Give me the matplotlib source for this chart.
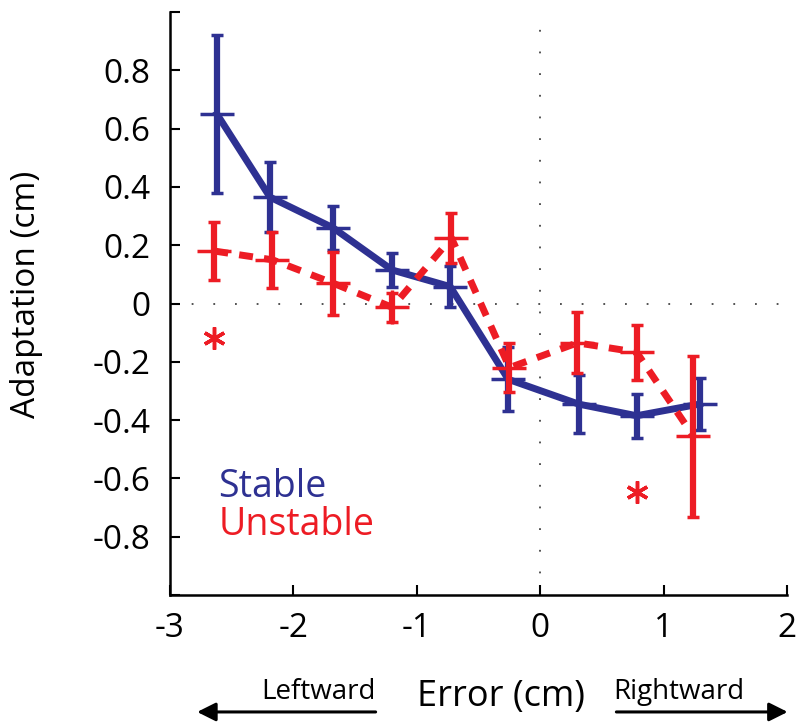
import matplotlib.pyplot as plt
import numpy as np

# Data
stable_x = [-2.62, -2.19, -1.68, -1.20, -0.73, -0.26, 0.31, 0.78, 1.29]
stable_y = [0.65, 0.365, 0.26, 0.115, 0.058, -0.26, -0.345, -0.385, -0.345]
stable_err = [0.27, 0.12, 0.075, 0.06, 0.07, 0.11, 0.10, 0.075, 0.088]

unstable_x = [-2.64, -2.17, -1.68, -1.20, -0.72, -0.25, 0.30, 0.78, 1.24]
unstable_y = [0.18, 0.15, 0.07, -0.013, 0.225, -0.22, -0.135, -0.167, -0.455]
unstable_err = [0.10, 0.097, 0.108, 0.05, 0.085, 0.085, 0.105, 0.094, 0.276]

star_x = [-2.64, 0.78]
star_y = [-0.117, -0.647]

xticks = [-3, -2, -1, 0, 1, 2]
yticks = [-1.0, -0.8, -0.6, -0.4, -0.2, 0.0, 0.2, 0.4, 0.6, 0.8, 1.0]
ytick_labels = ['', '-0.8', '-0.6', '-0.4', '-0.2', '0', '0.2', '0.4', '0.6', '0.8', '']

blue = '#2E3192'
red = '#ED1C24'

plt.rcParams['font.family'] = ['Open Sans', 'DejaVu Sans']

fig = plt.figure(figsize=(8, 7.25), dpi=100)
ax = fig.add_axes([0.2125, 0.1793, 0.7715, 0.8041])

# dotted reference lines
ax.axhline(0, color='#444444', lw=1.3, ls=(0, (1, 11)), zorder=1)
ax.axvline(0, color='#444444', lw=1.3, ls=(0, (1, 11)), zorder=1)

ax.errorbar(stable_x, stable_y, yerr=stable_err, color=blue, lw=5, marker='+',
            ms=25, mew=2.5, elinewidth=4.5, capsize=4.5, capthick=4.5, zorder=3)
ax.errorbar(unstable_x, unstable_y, yerr=unstable_err, color=red, lw=5,
            ls=(0, (2, 1.6)), marker='+', ms=25, mew=2.5, elinewidth=4.5,
            capsize=4.5, capthick=4.5, zorder=4)

ax.plot(star_x, star_y, ls='none', marker=(6, 2, 0), ms=16, mew=2.5,
        color=red, zorder=5)

ax.text(-2.61, -0.63, 'Stable', color=blue, fontsize=27, va='center', ha='left')
ax.text(-2.61, -0.76, 'Unstable', color=red, fontsize=27, va='center', ha='left')

ax.set_xlim(-3, 2)
ax.set_ylim(-1, 1)
ax.set_xticks(xticks)
ax.set_xticklabels([str(t) for t in xticks])
ax.set_yticks(yticks)
ax.set_yticklabels(ytick_labels)
ax.tick_params(direction='in', length=7, width=1.5, labelsize=24, pad=12)
ax.tick_params(axis='y', pad=14)

for s in ['top', 'right']:
    ax.spines[s].set_visible(False)
for s in ['left', 'bottom']:
    ax.spines[s].set_linewidth(1.8)

ax.set_ylabel('Adaptation (cm)', fontsize=24)
ax.yaxis.set_label_coords(-0.205, 0.515)

# x-axis label with direction arrows
fig.text(0.626, 0.038, 'Error (cm)', fontsize=26, ha='center', va='center')
fig.text(0.47, 0.045, 'Leftward', fontsize=20, ha='right', va='center')
fig.text(0.767, 0.045, 'Rightward', fontsize=20, ha='left', va='center')
ax.annotate('', xy=(0.243, 0.018), xytext=(0.473, 0.018), xycoords='figure fraction',
            arrowprops=dict(arrowstyle='-|>', lw=2.2, color='black', mutation_scale=28))
ax.annotate('', xy=(0.988, 0.018), xytext=(0.767, 0.018), xycoords='figure fraction',
            arrowprops=dict(arrowstyle='-|>', lw=2.2, color='black', mutation_scale=28))

fig.savefig('out.png', dpi=100)
